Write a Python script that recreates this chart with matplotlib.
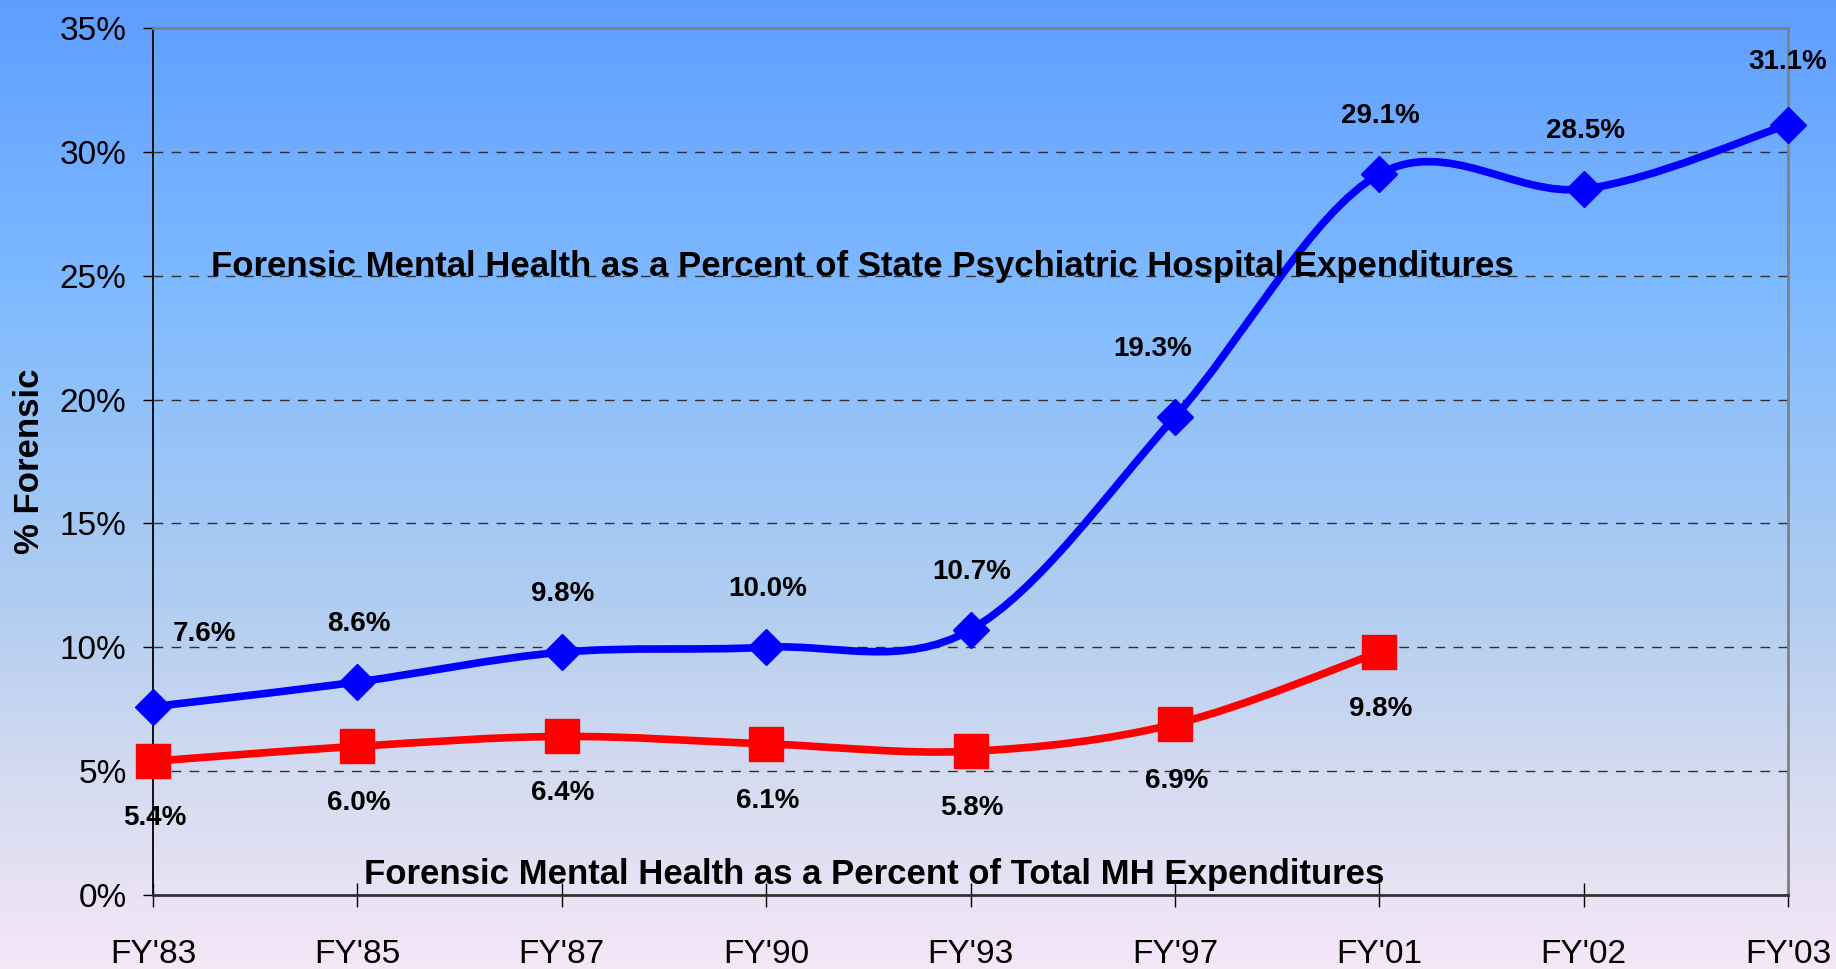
import numpy as np
import matplotlib
matplotlib.use("Agg")
import matplotlib.pyplot as plt
from matplotlib.path import Path
from matplotlib.patches import PathPatch
from matplotlib.colors import LinearSegmentedColormap
import matplotlib.ticker as ticker

# ── Data ──────────────────────────────────────────────────────
years = ["FY'83", "FY'85", "FY'87", "FY'90", "FY'93", "FY'97", "FY'01", "FY'02", "FY'03"]
hospital_pct = [7.6, 8.6, 9.8, 10.0, 10.7, 19.3, 29.1, 28.5, 31.1]
total_mh_pct = [5.4, 6.0, 6.4, 6.1, 5.8, 6.9, 9.8]

BLUE = "#0000FF"
RED = "#FF0000"
plt.rcParams["font.family"] = ["Liberation Sans", "DejaVu Sans"]


def smooth_path(xs, ys):
    # Excel-style smoothed line: cubic Bezier segments through the points
    pts = np.column_stack([np.asarray(xs, float), np.asarray(ys, float)])
    n = len(pts)
    verts = [pts[0]]
    codes = [Path.MOVETO]
    for i in range(n - 1):
        p0 = pts[max(i - 1, 0)]
        p1 = pts[i]
        p2 = pts[i + 1]
        p3 = pts[min(i + 2, n - 1)]
        verts += [p1 + (p2 - p0) / 6.0, p2 - (p3 - p1) / 6.0, p2]
        codes += [Path.CURVE4] * 3
    return Path(verts, codes)


fig = plt.figure(figsize=(18.36, 9.69), dpi=100)

# ── Background gradient ───────────────────────────────────────
bg = fig.add_axes([0, 0, 1, 1], zorder=0)
cmap = LinearSegmentedColormap.from_list(
    "bg", [(0.0, "#5e9eff"), (0.31, "#80bbff"), (0.62, "#b0cdf0"),
           (0.82, "#d8dcf0"), (1.0, "#f5e6f8")])
bg.imshow(np.linspace(0, 1, 256).reshape(-1, 1), aspect="auto", cmap=cmap,
          extent=[0, 1, 0, 1], origin="upper")
bg.set_axis_off()

ax = fig.add_axes([0.0833, 0.0764, 0.9739 - 0.0833, 0.9711 - 0.0764], zorder=1)
ax.set_facecolor("none")
x = np.arange(len(years))

# ── Lines ─────────────────────────────────────────────────────
for xs, ys, col in [(x, hospital_pct, BLUE), (x[:len(total_mh_pct)], total_mh_pct, RED)]:
    ax.add_patch(PathPatch(smooth_path(xs, ys), fill=False, edgecolor=col,
                           lw=5.5, capstyle="round", joinstyle="round", zorder=3))
ax.plot(x, hospital_pct, linestyle="none", marker="D", ms=18, color=BLUE,
        mec=BLUE, zorder=4, clip_on=False)
ax.plot(x[:len(total_mh_pct)], total_mh_pct, linestyle="none", marker="s", ms=24,
        color=RED, mec=RED, zorder=4, clip_on=False)

# ── Data labels ───────────────────────────────────────────────
lab_kw = dict(textcoords="offset points", ha="center", va="center",
              fontsize=20, fontweight="bold", color="black", zorder=5)
blue_off = {0: (37, 52), 5: (-16, 49), 8: (0, 45)}
for i, v in enumerate(hospital_pct):
    ax.annotate(f"{v:.1f}%", (x[i], v), xytext=blue_off.get(i, (1, 42)), **lab_kw)
for i, v in enumerate(total_mh_pct):
    ax.annotate(f"{v:.1f}%", (x[i], v), xytext=(1, -41), **lab_kw)

# ── Series captions ───────────────────────────────────────────
cap_kw = dict(ha="center", va="baseline", fontweight="bold", fontsize=25, zorder=5)
ax.text(3.47, 25.0, "Forensic Mental Health as a Percent of State Psychiatric Hospital Expenditures",
        **cap_kw)
ax.text(3.53, 0.45, "Forensic Mental Health as a Percent of Total MH Expenditures", **cap_kw)

# ── Axes styling ──────────────────────────────────────────────
ax.set_xlim(0, len(years) - 1)
ax.set_ylim(0, 35)
ax.set_xticks(x)
ax.set_xticklabels(years)
ax.set_yticks(np.arange(0, 36, 5))
ax.yaxis.set_major_formatter(ticker.FuncFormatter(lambda v, p: f"{v:.0f}%"))
ax.tick_params(axis="y", direction="out", length=7, width=1, pad=12, labelsize=24)
ax.tick_params(axis="x", direction="inout", length=17, width=1, pad=23, labelsize=24)
for yv in range(5, 35, 5):
    ax.axhline(yv, color="#303030", lw=1, dashes=(7, 6), zorder=1)
ax.spines["top"].set_color("#808080")
ax.spines["right"].set_color("#808080")
ax.spines["top"].set_linewidth(2)
ax.spines["right"].set_linewidth(2)
ax.spines["left"].set_linewidth(1.3)
ax.spines["bottom"].set_linewidth(2)
ax.spines["bottom"].set_color("#303030")
ax.set_ylabel("% Forensic", fontsize=25, fontweight="bold", va="center")
ax.yaxis.set_label_coords(-0.0755, 0.5)

fig.savefig("out.png", dpi=100)
